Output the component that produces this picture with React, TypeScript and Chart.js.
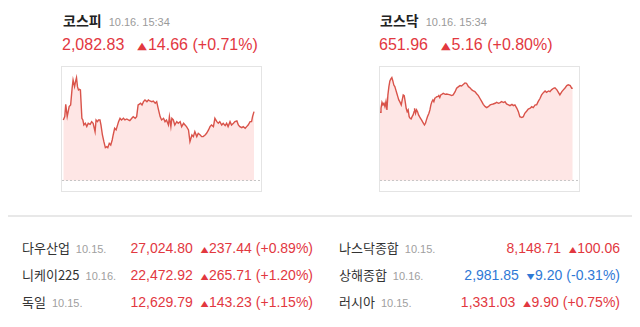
import React, { useEffect, useRef } from "react";
import { Chart, registerables } from "chart.js";

Chart.register(...registerables);

// ---- Intraday data (minutes after 09:00, index value) ----
const kospiMinutes = [
  0, 3, 5, 8, 10, 12, 15, 18, 20, 23,
  25, 27, 29, 31, 33, 35, 38, 40, 42, 45,
  48, 51, 55, 58, 61, 65, 67, 70, 72, 75,
  77, 80, 83, 86, 89, 91, 94, 97, 100, 102,
  105, 108, 110, 113, 116, 119, 123, 126, 130, 133,
  136, 140, 143, 147, 150, 153, 155, 158, 161, 164,
  167, 171, 174, 177, 181, 184, 188, 191, 194, 198,
  201, 205, 208, 211, 215, 217, 220, 222, 225, 228,
  232, 235, 239, 242, 246, 249, 252, 256, 259, 263,
  266, 269, 273, 276, 280, 283, 286, 290, 293, 297,
  300, 303, 307, 310, 314, 317, 320, 324, 327, 331,
  334, 337, 341, 344, 348, 351, 355, 358, 361, 365,
  368, 372, 375, 378, 382, 385, 387, 390,
];
const kospiValues = [
  2081.06, 2081.77, 2084.39, 2081.77, 2082.83, 2083.9, 2084.25, 2087.8, 2089.58, 2088.16,
  2089.22, 2090.07, 2088.16, 2087.45, 2087.59, 2087.45, 2081.41, 2081.06, 2079.99, 2080.35,
  2079.64, 2080.35, 2080.13, 2080.7, 2080.35, 2078.57, 2081.06, 2080.7, 2081.06, 2081.06,
  2079.99, 2077.86, 2076.44, 2075.16, 2075.38, 2075.16, 2076.09, 2075.73, 2076.8, 2077.86,
  2079.28, 2078.93, 2079.64, 2080.7, 2081.41, 2081.06, 2081.41, 2081.06, 2081.27, 2081.06,
  2080.91, 2081.41, 2081.77, 2081.41, 2081.77, 2084.25, 2084.39, 2084.61, 2084.25, 2084.96,
  2085.32, 2084.96, 2085.32, 2085.1, 2084.96, 2085.1, 2084.61, 2084.96, 2083.54, 2081.77,
  2081.06, 2081.41, 2080.7, 2081.06, 2079.99, 2081.77, 2079.64, 2081.41, 2081.06, 2079.99,
  2080.7, 2080.35, 2080.7, 2079.64, 2080.35, 2079.99, 2079.64, 2078.93, 2076.44, 2077.86,
  2077.51, 2078.57, 2077.51, 2078.22, 2077.86, 2077.51, 2077.51, 2077.86, 2078.22, 2078.93,
  2079.64, 2079.99, 2079.64, 2081.41, 2080.7, 2080.35, 2080.7, 2079.99, 2080.35, 2079.85,
  2080.35, 2079.64, 2080.7, 2079.99, 2080.35, 2080.7, 2080.84, 2079.99, 2079.64, 2079.42,
  2079.64, 2079.28, 2079.64, 2079.99, 2080.7, 2080.7, 2081.77, 2082.83,
];
const kospiPrevClose = 2068.17;

const kosdaqMinutes = [
  0, 2, 4, 6, 8, 10, 12, 14, 16, 18,
  20, 22, 24, 26, 28, 30, 32, 34, 36, 38,
  40, 43, 45, 47, 49, 51, 53, 55, 57, 59,
  61, 63, 65, 67, 69, 70, 72, 74, 76, 78,
  80, 82, 84, 86, 88, 90, 92, 94, 96, 99,
  101, 103, 105, 107, 109, 111, 113, 115, 117, 119,
  121, 123, 125, 128, 132, 135, 138, 142, 145, 148,
  152, 155, 159, 162, 165, 169, 172, 175, 179, 182,
  186, 189, 192, 196, 199, 202, 206, 209, 213, 216,
  219, 223, 226, 229, 233, 236, 240, 243, 246, 250,
  253, 256, 260, 263, 267, 270, 273, 277, 280, 283,
  287, 290, 293, 297, 300, 304, 307, 310, 314, 317,
  320, 324, 327, 331, 334, 337, 341, 344, 347, 351,
  354, 358, 361, 364, 368, 371, 374, 378, 381, 385,
  388, 390,
];
const kosdaqValues = [
  650.62, 650.84, 651.17, 651.03, 651.12, 650.93, 651.21, 650.75, 651.59, 652.05,
  652.37, 652.48, 652.56, 652.37, 652.14, 652.05, 651.87, 651.68, 651.49, 651.31,
  651.21, 651.03, 651.31, 651.59, 651.55, 651.21, 650.84, 650.65, 650.75, 650.37,
  650.28, 650.24, 650.37, 650.47, 650.65, 650.84, 650.56, 650.75, 650.65, 650.47,
  650.37, 650.28, 650.19, 650.09, 650.0, 649.91, 650.0, 650.19, 650.37, 650.56,
  650.75, 651.03, 651.21, 651.31, 651.21, 651.4, 651.44, 651.49, 651.49, 651.55,
  651.44, 651.59, 651.62, 651.68, 651.62, 651.64, 651.62, 651.59, 651.55, 651.59,
  651.77, 651.96, 652.05, 652.11, 652.09, 652.18, 652.26, 652.24, 652.05, 651.99,
  651.87, 651.81, 651.77, 651.64, 651.55, 651.4, 651.21, 651.06, 650.93, 650.88,
  650.93, 651.03, 651.06, 651.08, 651.12, 651.17, 651.12, 651.16, 651.21, 651.16,
  651.21, 651.08, 651.03, 650.99, 651.06, 650.99, 651.03, 650.84, 650.65, 650.37,
  650.32, 650.37, 650.56, 650.69, 650.8, 650.84, 650.93, 650.88, 651.03, 651.03,
  651.21, 651.4, 651.59, 651.73, 651.81, 651.73, 651.81, 651.77, 651.87, 651.96,
  651.99, 651.87, 651.73, 651.59, 651.77, 651.87, 651.96, 652.11, 652.15, 652.11,
  651.96, 651.96,
];
const kosdaqPrevClose = 646.8;

// ---- Header texts ----
const indexNames = ["코스피", "코스닥"];
const indexTimes = ["10.16. 15:34", "10.16. 15:34"];
const indexPrices = ["2,082.83", "651.96"];
const indexChanges = ["14.66", "5.16"];
const indexRates = ["(+0.71%)", "(+0.80%)"];

// ---- World indices table ----
const worldNames = ["다우산업", "니케이225", "독일", "나스닥종합", "상해종합", "러시아"];
const worldDates = ["10.15.", "10.16.", "10.15.", "10.15.", "10.16.", "10.15."];
const worldValues = ["27,024.80", "22,472.92", "12,629.79", "8,148.71", "2,981.85", "1,331.03"];
const worldChanges = ["237.44", "265.71", "143.23", "100.06", "9.20", "9.90"];
const worldRates = ["(+0.89%)", "(+1.20%)", "(+1.15%)", "", "(-0.31%)", "(+0.75%)"];
const worldUp = [true, true, true, true, false, true];

const RED = "#e2383f";
const BLUE = "#2f79d6";
const LINE = "#d9534a";
const FILL = "#fee6e5";
const LATIN = "'Liberation Sans', Arial, 'Noto Sans CJK KR', sans-serif";
const KOREAN = "'Noto Sans CJK KR', 'Liberation Sans', sans-serif";

type MiniProps = {
  minutes: number[];
  values: number[];
  prev: number;
  xMin: number;
  xMax: number;
  yMin: number;
  yMax: number;
};

function MiniChart({ minutes, values, prev, xMin, xMax, yMin, yMax }: MiniProps) {
  const ref = useRef<HTMLCanvasElement>(null);
  useEffect(() => {
    const chart = new Chart(ref.current as HTMLCanvasElement, {
      type: "line",
      data: {
        datasets: [
          {
            data: [
              { x: xMin, y: prev },
              { x: xMax, y: prev },
            ],
            borderColor: "#c6c6c6",
            borderDash: [2, 2],
            borderWidth: 1,
            pointRadius: 0,
            fill: false,
            order: 0,
          },
          {
            data: minutes.map((m, i) => ({ x: m, y: values[i] })),
            borderColor: LINE,
            backgroundColor: FILL,
            borderWidth: 1.4,
            pointRadius: 0,
            tension: 0,
            fill: { value: prev },
            order: 1,
          },
        ],
      },
      options: {
        animation: false,
        responsive: false,
        devicePixelRatio: 1,
        events: [],
        layout: { padding: 0 },
        plugins: { legend: { display: false }, tooltip: { enabled: false } },
        scales: {
          x: { type: "linear", display: false, min: xMin, max: xMax },
          y: { type: "linear", display: false, min: yMin, max: yMax },
        },
      },
    } as any);
    return () => chart.destroy();
  }, []);
  return <canvas ref={ref} width={199} height={124} style={{ display: "block" }} />;
}

function Triangle({ up, size }: { up: boolean; size: number }) {
  return (
    <span
      style={{
        fontFamily: "'DejaVu Sans', sans-serif",
        fontSize: size,
        display: "inline-block",
        transform: "scaleY(0.78)",
        color: up ? RED : BLUE,
      }}
    >
      {up ? "▲" : "▼"}
    </span>
  );
}

function Panel({ idx, left, textLeft, chart }: { idx: number; left: number; textLeft: number; chart: React.ReactNode }) {
  return (
    <>
      <div style={{ position: "absolute", left: textLeft, top: 11, display: "flex", alignItems: "baseline", whiteSpace: "nowrap" }}>
        <span style={{ fontFamily: KOREAN, fontWeight: 700, fontSize: 14, lineHeight: "18px", color: "#222" }}>{indexNames[idx]}</span>
        <span style={{ fontFamily: LATIN, fontSize: 11, color: "#9a9a9a", marginLeft: 7 }}>{indexTimes[idx]}</span>
      </div>
      <div style={{ position: "absolute", left: textLeft - 1, top: 37, fontFamily: LATIN, fontSize: 16, lineHeight: "16px", color: RED, whiteSpace: "nowrap", display: "flex", alignItems: "baseline" }}>
        <span>{indexPrices[idx]}</span>
        <span style={{ marginLeft: 13 }}><Triangle up={true} size={12.5} /></span>
        <span style={{ marginLeft: 1 }}>{indexChanges[idx]}</span>
        <span style={{ marginLeft: 4.5 }}>{indexRates[idx]}</span>
      </div>
      <div
        style={{
          position: "absolute",
          left,
          top: 66,
          width: 201,
          height: 126,
          boxSizing: "border-box",
          border: "1px solid #e4e4e4",
        }}
      >
        {chart}
      </div>
    </>
  );
}

function WorldRow({ i }: { i: number }) {
  const color = worldUp[i] ? RED : BLUE;
  return (
    <div style={{ height: 27, display: "flex", alignItems: "center", justifyContent: "space-between", whiteSpace: "nowrap" }}>
      <div style={{ display: "flex", alignItems: "baseline" }}>
        <span style={{ fontFamily: KOREAN, fontSize: 13, color: "#333", lineHeight: "18px" }}>{worldNames[i]}</span>
        <span style={{ fontFamily: LATIN, fontSize: 11, color: "#a0a0a0", marginLeft: 6 }}>{worldDates[i]}</span>
      </div>
      <div style={{ display: "flex", alignItems: "baseline", fontFamily: LATIN, fontSize: 14, color }}>
        <span>{worldValues[i]}</span>
        <span style={{ marginLeft: 8 }}><Triangle up={worldUp[i]} size={10} /></span>
        <span style={{ marginLeft: 0.5 }}>{worldChanges[i]}</span>
        {worldRates[i] ? <span style={{ marginLeft: 4 }}>{worldRates[i]}</span> : null}
      </div>
    </div>
  );
}

export default function App() {
  return (
    <div style={{ position: "fixed", left: 0, top: 0, width: 640, height: 327, background: "#fff", overflow: "hidden" }}>
      <Panel
        idx={0}
        left={61}
        textLeft={63}
        chart={<MiniChart minutes={kospiMinutes} values={kospiValues} prev={kospiPrevClose} xMin={-2.66} xMax={404.3} yMin={2065.93} yMax={2092.34} />}
      />
      <Panel
        idx={1}
        left={379}
        textLeft={380}
        chart={<MiniChart minutes={kosdaqMinutes} values={kosdaqValues} prev={kosdaqPrevClose} xMin={0} xMax={402.7} yMin={646.21} yMax={653.15} />}
      />
      <div style={{ position: "absolute", left: 8, top: 215, width: 624, height: 2, background: "#e8e8e8" }} />
      <div style={{ position: "absolute", left: 22, top: 234, width: 291 }}>
        {[0, 1, 2].map((i) => (
          <WorldRow key={i} i={i} />
        ))}
      </div>
      <div style={{ position: "absolute", left: 339, top: 234, width: 281 }}>
        {[3, 4, 5].map((i) => (
          <WorldRow key={i} i={i} />
        ))}
      </div>
    </div>
  );
}
